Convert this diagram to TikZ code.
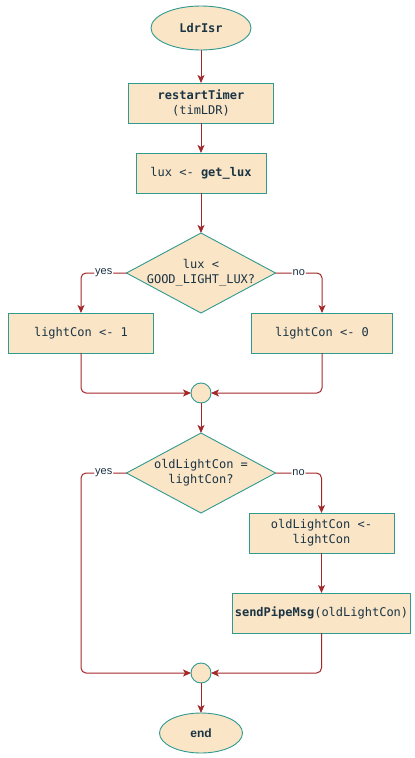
\documentclass[tikz,border=0pt]{standalone}
\usepackage{fontspec}
\setmainfont{Liberation Sans}
\setmonofont{DejaVu Sans Mono}
\usetikzlibrary{positioning,shapes.geometric,arrows.meta}

\definecolor{boxfill}{HTML}{FAE5C7}
\definecolor{boxline}{HTML}{2E9A90}
\definecolor{flowred}{HTML}{A3282A}
\definecolor{inkdark}{HTML}{1A3444}

\tikzset{
	base/.style={draw=boxline, fill=boxfill, line width=0.9pt, text=inkdark, outer sep=0pt,
		font=\ttfamily\fontsize{12}{15}\selectfont, align=center},
	terminal/.style={base, ellipse, inner sep=0pt},
	proc/.style={base, rectangle, minimum height=40pt, inner sep=2pt},
	decision/.style={base, diamond, minimum width=149pt, minimum height=80pt, inner sep=0pt},
	joint/.style={base, circle, minimum size=20pt, inner sep=0pt},
	flow/.style={draw=flowred, line width=1pt, rounded corners=5pt,
		-{Stealth[length=8pt,width=7pt,inset=2pt]}},
	lbl/.style={fill=white, text=inkdark, inner sep=1pt, font=\fontsize{11}{13}\selectfont}
}

\begin{document}
\begin{tikzpicture}[x=1pt,y=1pt]
	\useasboundingbox (0,0) rectangle (415,-758);
	\node[terminal, minimum width=100pt, minimum height=44pt] (start) at (201,-28) {\textbf{LdrIsr}};
	\node[proc, minimum width=145pt, below=33pt of start] (restart) {\textbf{restartTimer}\\(timLDR)};
	\node[proc, minimum width=130pt, below=30pt of restart] (getlux) {lux <- \textbf{get\_lux}};
	\node[decision, below=40pt of getlux] (dec1)
		{\makebox[0pt]{\begin{tabular}{@{}c@{}}lux <\\GOOD\_LIGHT\_LUX?\end{tabular}}};
	\node[proc, minimum width=145pt, below=0pt of dec1, xshift=-120pt] (lc1) {lightCon <- 1};
	\node[proc, minimum width=141pt, below=0pt of dec1, xshift=121pt] (lc0) {lightCon <- 0};
	\node[joint, below=70pt of dec1] (join1) {};
	\node[decision, below=30pt of join1] (dec2)
		{\makebox[0pt]{\begin{tabular}{@{}c@{}}oldLightCon =\\lightCon?\end{tabular}}};
	\node[proc, minimum width=145pt, below=0pt of dec2, xshift=120.5pt] (old) {oldLightCon <-\\lightCon};
	\node[proc, minimum width=177pt, below=40pt of old] (send) {\textbf{sendPipeMsg}(oldLightCon)};
	\node[joint, below=150pt of dec2] (join2) {};
	\node[terminal, minimum width=83pt, minimum height=40pt, below=30pt of join2]
		(stop) {\fontspec{Liberation Sans}\bfseries end};

	\draw[flow] (start) -- (restart);
	\draw[flow] (restart) -- (getlux);
	\draw[flow] (getlux) -- (dec1);
	\draw[flow] (dec1.west) -| node[lbl, pos=0.25] {yes} (lc1.north);
	\draw[flow] (dec1.east) -| node[lbl, pos=0.25] {no} (lc0.north);
	\draw[flow] (lc1.south) |- (join1.west);
	\draw[flow] (lc0.south) |- (join1.east);
	\draw[flow] (join1) -- (dec2);
	\draw[flow] (dec2.west) -- node[lbl] {yes} (dec2.west -| lc1.south) |- (join2.west);
	\draw[flow] (dec2.east) -| node[lbl, pos=0.25] {no} (old.north);
	\draw[flow] (old) -- (send);
	\draw[flow] (send.south) |- (join2.east);
	\draw[flow] (join2) -- (stop);
\end{tikzpicture}
\end{document}
